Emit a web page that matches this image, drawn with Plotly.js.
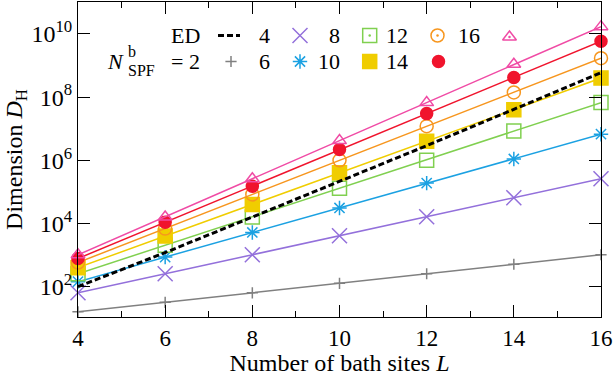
<!DOCTYPE html>
<html>
<head>
<meta charset="utf-8">
<script src="https://cdn.plot.ly/plotly-3.0.1.min.js"></script>
<style>html,body{margin:0;padding:0;background:#fff}#chart{width:613px;height:376px}</style>
</head>
<body>
<div id="chart"></div>
<script>
// ---- data ----
const L = [4, 6, 8, 10, 12, 14, 16];
const ED  = [1.0e2, 1.2e3, 1.6e4, 2.1e5, 2.9e6, 4.1e7, 5.9e8];
const N2  = [16, 32, 64, 128, 256, 512, 1024];
const N4  = [64, 256, 1024, 4096, 16384, 65536, 262144];
const N6  = [144, 864, 5200, 3.1e4, 1.9e5, 1.1e6, 6.7e6];
const N8  = [256, 2048, 1.6e4, 1.3e5, 1.0e6, 8.4e6, 6.7e7];
const N10 = [400, 4000, 4.0e4, 4.0e5, 4.0e6, 4.0e7, 4.0e8];
const N12 = [580, 6900, 8.3e4, 1.0e6, 1.2e7, 1.4e8, 1.7e9];
const N14 = [780, 1.1e4, 1.5e5, 2.2e6, 3.0e7, 4.2e8, 5.9e9];
const N16 = [1024, 1.6e4, 2.6e5, 4.2e6, 6.7e7, 1.1e9, 1.7e10];
const seriesNames = ['2', '4', '6', '8', '10', '12', '14', '16'];
const seriesData = [N2, N4, N6, N8, N10, N12, N14, N16];
const yTickVals = [1e2, 1e4, 1e6, 1e8, 1e10];
const yTickText = ['10<sup>2</sup>', '10<sup>4</sup>', '10<sup>6</sup>', '10<sup>8</sup>', '10<sup>10</sup>'];
const xTickVals = [4, 6, 8, 10, 12, 14, 16];

// ---- styles ----
const colors = ['#808080', '#9370db', '#1ba1e2', '#80d050', '#f0cd00', '#f7961e', '#f0142d', '#f04ba5'];
const symbols = ['cross-thin-open', 'x-thin-open', 'asterisk-open', 'square-open', 'square', 'circle-open', 'circle', 'triangle-up-open'];
const sizes = [8, 15, 12, 14, 14, 13, 12, 12];
const FONT = 'Liberation Serif, Times New Roman, serif';

const traces = [];
seriesData.forEach((d, i) => {
  traces.push({
    x: L, y: d, type: 'scatter', mode: 'lines+markers', name: seriesNames[i],
    line: {color: colors[i], width: 1.5},
    marker: {symbol: symbols[i], size: sizes[i], color: colors[i], line: {color: colors[i], width: 1.5}},
    showlegend: false, cliponaxis: false
  });
});
traces.push({
  x: L, y: ED, type: 'scatter', mode: 'lines', name: 'ED',
  line: {color: '#000', width: 3, dash: '6px,3px'}, showlegend: false
});

// ---- hand-drawn legend (pixel coordinates on an overlay axis) ----
const row1 = 35.5, row2 = 61.5;
const legendSym = [
  {i: 0, x: 231, y: row2}, {i: 1, x: 300, y: row1}, {i: 2, x: 300, y: row2},
  {i: 3, x: 369.7, y: row1}, {i: 4, x: 369.7, y: row2}, {i: 5, x: 437.5, y: row1},
  {i: 6, x: 438.5, y: row2}, {i: 7, x: 509.5, y: row1 + 1.5}
];
legendSym.forEach(s => {
  traces.push({
    x: [s.x], y: [s.y], xaxis: 'x2', yaxis: 'y2', type: 'scatter', mode: 'markers',
    marker: {symbol: symbols[s.i], size: sizes[s.i], color: colors[s.i], line: {color: colors[s.i], width: 1.5}},
    showlegend: false, hoverinfo: 'skip', cliponaxis: false
  });
  if ([3, 5, 7].includes(s.i)) {
    traces.push({
      x: [s.x], y: [s.y], xaxis: 'x2', yaxis: 'y2', type: 'scatter', mode: 'markers',
      marker: {symbol: 'circle', size: 2.5, color: colors[s.i]},
      showlegend: false, hoverinfo: 'skip', cliponaxis: false
    });
  }
});
traces.push({
  x: [218, 240], y: [row1, row1], xaxis: 'x2', yaxis: 'y2', type: 'scatter', mode: 'lines',
  line: {color: '#000', width: 3, dash: '6px,3px'}, showlegend: false, hoverinfo: 'skip', cliponaxis: false
});

const TS = 22;
function ann(text, x, y, xanchor, size) {
  return {text: text, x: x, y: y, xref: 'x2', yref: 'y2', xanchor: xanchor || 'right', yanchor: 'middle',
          showarrow: false, font: {family: FONT, size: size || TS, color: '#000'}};
}
const annotations = [
  ann('ED', 202, row1),
  ann('4', 272, row1), ann('8', 342, row1), ann('12', 410, row1), ann('16', 482, row1),
  ann('<i>N</i>', 126, row2, 'right'),
  ann('b', 126, row2 - 10, 'left', 16),
  ann('SPF', 125.5, row2 + 9, 'left', 16),
  ann('= 2', 202, row2),
  ann('6', 272, row2), ann('10', 342, row2), ann('14', 410, row2)
];

const layout = {
  width: 613, height: 376,
  margin: {l: 78, r: 12, t: 2, b: 59},
  paper_bgcolor: '#fff', plot_bgcolor: '#fff',
  font: {family: FONT, size: TS, color: '#000'},
  showlegend: false,
  xaxis: {
    range: [4, 16], tickvals: xTickVals, ticks: 'inside', ticklen: 12, tickwidth: 1, tickcolor: '#000',
    showline: true, linecolor: '#000', linewidth: 1, mirror: 'allticks', showgrid: false, zeroline: false,
    tickfont: {family: FONT, size: 23, color: '#000'},
    minor: {dtick: 1, tick0: 5, ticks: 'inside', ticklen: 6, tickwidth: 1, tickcolor: '#000', showgrid: false},
    title: {text: 'Number of bath sites <i>L</i>', font: {family: FONT, size: 24, color: '#000'}, standoff: 4}
  },
  yaxis: {
    type: 'log', range: [1.04, 11.01], tickvals: yTickVals, ticktext: yTickText,
    ticks: 'inside', ticklen: 12, tickwidth: 1, tickcolor: '#000',
    showline: true, linecolor: '#000', linewidth: 1, mirror: 'allticks', showgrid: false, zeroline: false,
    tickfont: {family: FONT, size: 24, color: '#000'},
    title: {text: 'Dimension <i>D</i><sub>H</sub>', font: {family: FONT, size: 24, color: '#000'}, standoff: 2}
  },
  xaxis2: {overlaying: 'x', range: [78, 601], visible: false, fixedrange: true},
  yaxis2: {overlaying: 'y', range: [317, 2], visible: false, fixedrange: true},
  annotations: annotations
};

Plotly.newPlot('chart', traces, layout, {staticPlot: true, displayModeBar: false});
</script>
</body>
</html>
